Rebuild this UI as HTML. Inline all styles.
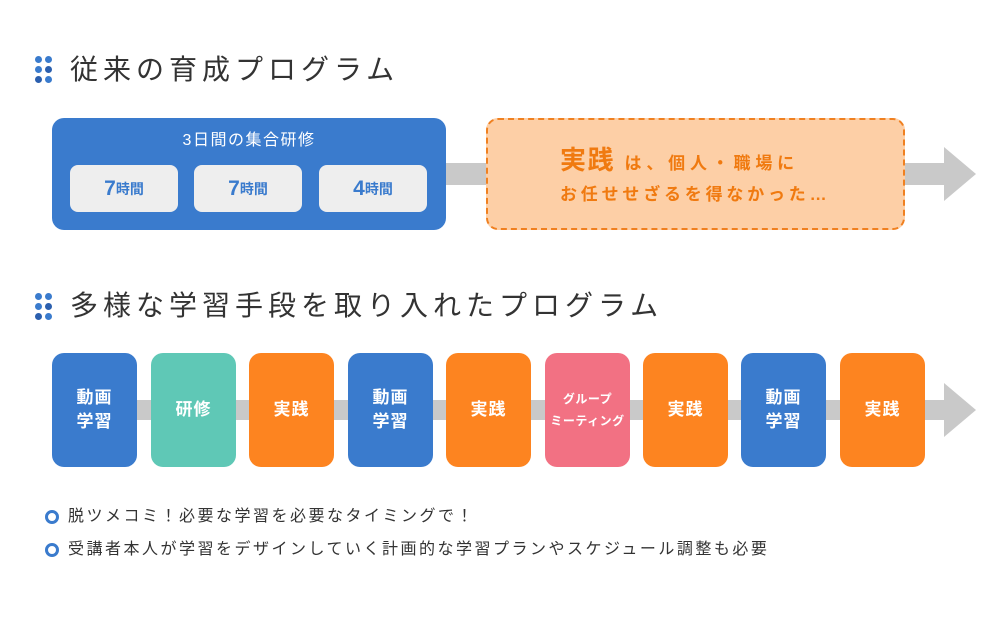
<!DOCTYPE html>
<html><head><meta charset="utf-8"><style>
*{margin:0;padding:0;box-sizing:border-box}
body{width:1000px;height:630px;background:#fff;position:relative;overflow:hidden;font-family:"Liberation Sans","Noto Sans CJK JP",sans-serif}
.a{position:absolute}
.h{font-size:28px;color:#333;letter-spacing:5px;white-space:nowrap;line-height:30px}
.dots{width:18px;height:26px}
.dots i{position:absolute;width:7px;height:7px;border-radius:50%;background:#3a7bcd}
.b{position:absolute;top:353px;width:85px;height:114px;border-radius:12px;color:#fff;font-weight:bold;font-size:17px;line-height:24px;display:flex;align-items:center;justify-content:center;text-align:center;letter-spacing:1px}
.sb{position:absolute;top:165px;width:108px;height:47px;border-radius:8px;background:#eeeeee;color:#3a7bcd;font-weight:bold;display:flex;align-items:center;justify-content:center}
.sb b{font-size:21px}.sb span{font-size:14px}
.li{font-size:16px;color:#333;letter-spacing:2.5px;white-space:nowrap;line-height:20px}
.ci{width:14px;height:14px;border-radius:50%;border:3.5px solid #3a7bcd}
</style></head><body>
<div class="a dots" style="left:35px;top:56px"><i style="left:0;top:0"></i><i style="left:10px;top:0"></i><i style="left:0;top:10px"></i><i style="left:10px;top:10px;background:#2b5fae"></i><i style="left:0;top:20px;background:#2b5fae"></i><i style="left:10px;top:20px"></i></div>
<div class="a h" style="left:70px;top:55px">従来の育成プログラム</div>

<div class="a" style="left:440px;top:163px;width:510px;height:22px;background:#c9c9c9"></div>
<div class="a" style="left:944px;top:147px;width:0;height:0;border-top:27px solid transparent;border-bottom:27px solid transparent;border-left:32px solid #c9c9c9"></div>

<div class="a" style="left:52px;top:118px;width:394px;height:112px;border-radius:12px;background:#3a7bcd"></div>
<div class="a" style="left:52px;top:130px;width:394px;text-align:center;color:#fff;font-size:16px;letter-spacing:1.5px;line-height:22px">3日間の集合研修</div>
<div class="sb" style="left:70px"><b>7</b><span>時間</span></div>
<div class="sb" style="left:194px"><b>7</b><span>時間</span></div>
<div class="sb" style="left:319px"><b>4</b><span>時間</span></div>

<div class="a" style="left:486px;top:118px;width:419px;height:112px;border-radius:12px;background:#fdcfa6;border:2px dashed #f08020"></div>
<div class="a" style="left:560px;top:145px;color:#f07a10;font-weight:bold;white-space:nowrap;line-height:30px;letter-spacing:1.5px"><span style="font-size:26px">実践</span><span style="font-size:17px;letter-spacing:4.8px"> は、個人・職場に</span></div>
<div class="a" style="left:560px;top:183px;color:#f07a10;font-weight:bold;font-size:17px;white-space:nowrap;letter-spacing:3.8px;line-height:24px">お任せせざるを得なかった…</div>

<div class="a dots" style="left:35px;top:293px"><i style="left:0;top:0"></i><i style="left:10px;top:0"></i><i style="left:0;top:10px"></i><i style="left:10px;top:10px;background:#2b5fae"></i><i style="left:0;top:20px;background:#2b5fae"></i><i style="left:10px;top:20px"></i></div>
<div class="a h" style="left:70px;top:291px;letter-spacing:5px">多様な学習手段を取り入れたプログラム</div>

<div class="a" style="left:60px;top:400px;width:890px;height:20px;background:#c9c9c9"></div>
<div class="a" style="left:944px;top:383px;width:0;height:0;border-top:27px solid transparent;border-bottom:27px solid transparent;border-left:32px solid #c9c9c9"></div>

<div class="b" style="left:52px;background:#3a7bcd">動画<br>学習</div>
<div class="b" style="left:151px;background:#5fc8b6">研修</div>
<div class="b" style="left:249px;background:#fd8420">実践</div>
<div class="b" style="left:348px;background:#3a7bcd">動画<br>学習</div>
<div class="b" style="left:446px;background:#fd8420">実践</div>
<div class="b" style="left:545px;background:#f27183;font-size:12px;line-height:22px;letter-spacing:0.5px">グループ<br>ミーティング</div>
<div class="b" style="left:643px;background:#fd8420">実践</div>
<div class="b" style="left:741px;background:#3a7bcd">動画<br>学習</div>
<div class="b" style="left:840px;background:#fd8420">実践</div>

<div class="a ci" style="left:45px;top:510px"></div>
<div class="a li" style="left:68px;top:507px">脱ツメコミ！必要な学習を必要なタイミングで！</div>
<div class="a ci" style="left:45px;top:543px"></div>
<div class="a li" style="left:68px;top:540px">受講者本人が学習をデザインしていく計画的な学習プランやスケジュール調整も必要</div>
</body></html>
